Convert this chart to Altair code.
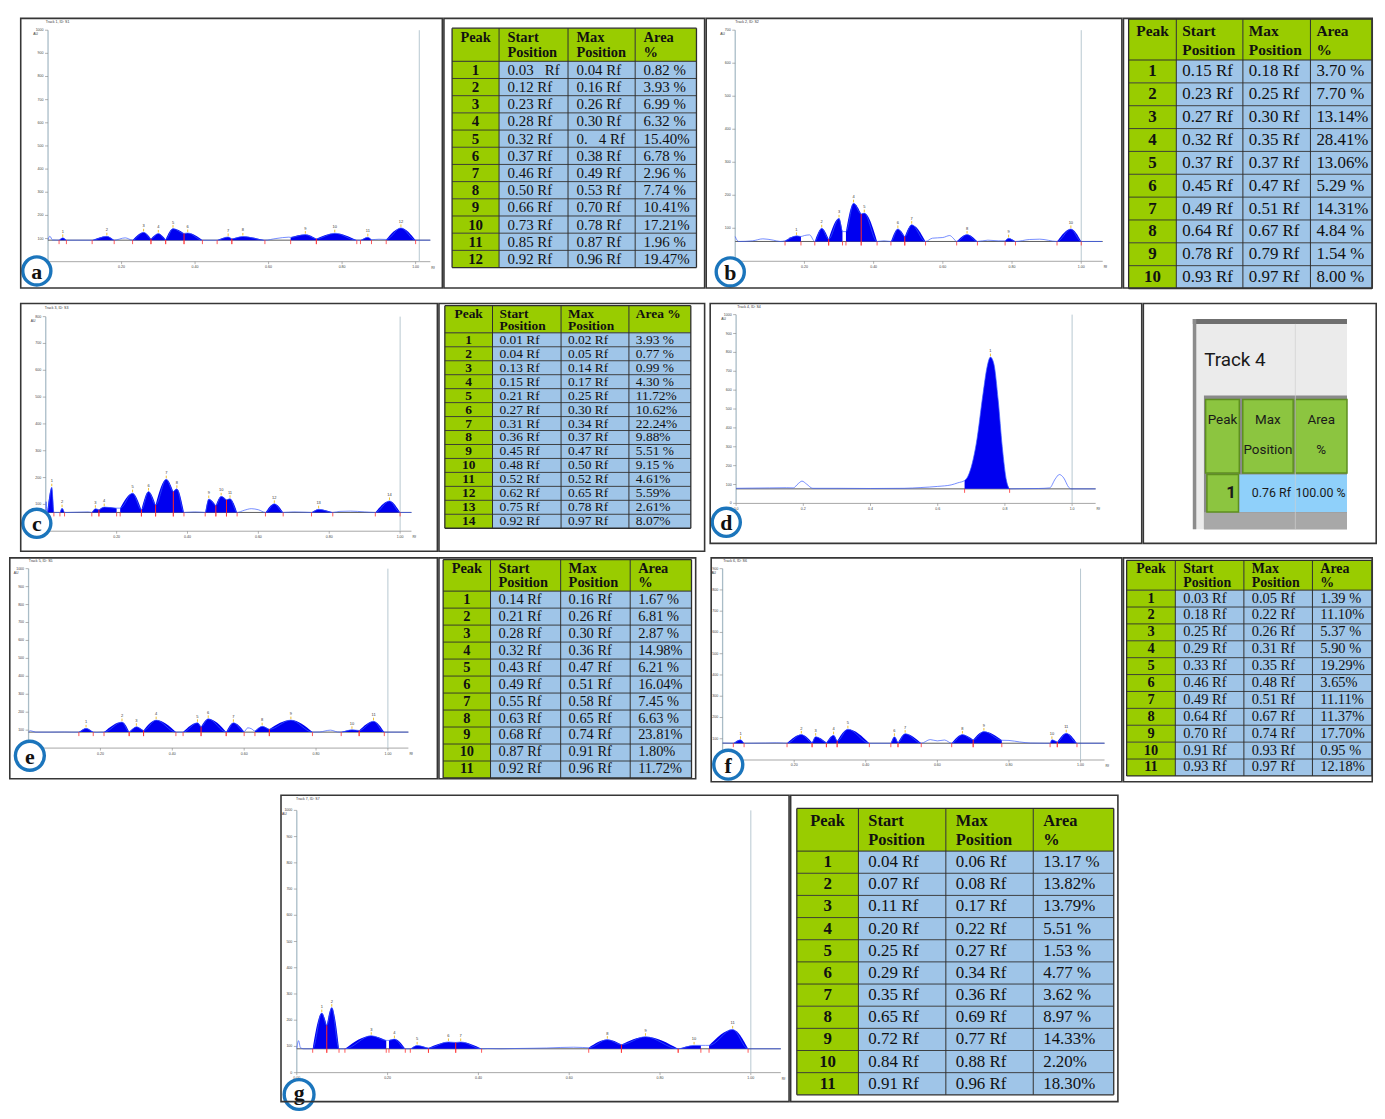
import altair as alt
import pandas as pd

# ====================== DENSITOGRAM DATA ======================
x_ticks = [0.0, 0.2, 0.4, 0.6, 0.8, 1.0]
x_labels = ["", "0.20", "0.40", "0.60", "0.80", "1.00"]
g_x_labels = ["0.00", "0.20", "0.40", "0.60", "0.80", "1.00"]
d_x_labels = ["0.0", "0.2", "0.4", "0.6", "0.8", "1.0"]

# panel a
a_title = "Track 1, ID: S1"
a_baseline = 93
a_yticks = [0, 100, 200, 300, 400, 500, 600, 700, 800, 900, 1000]
a_rf_start = [0.03, 0.12, 0.23, 0.28, 0.32, 0.37, 0.46, 0.50, 0.66, 0.73, 0.85, 0.92]
a_rf_max = [0.04, 0.16, 0.26, 0.30, 0.34, 0.38, 0.49, 0.53, 0.70, 0.78, 0.87, 0.96]
a_rf_end = [0.05, 0.18, 0.28, 0.32, 0.37, 0.42, 0.50, 0.59, 0.73, 0.84, 0.88, 1.00]
a_au_height = [103, 110, 127, 122, 143, 124, 107, 109, 117, 123, 106, 146]
a_au_slvl = [93, 93, 93, 99, 96, 122, 93, 99, 105, 99, 93, 96]
a_au_elvl = [93, 93, 99, 96, 122, 93, 99, 93, 99, 93, 95, 93]
a_noise_x = [0.0, 0.005, 0.012, 0.08, 0.21, 0.44, 0.62, 0.655, 0.90, 1.0, 1.04]
a_noise_y = [95, 110, 94, 93, 103, 93, 100, 106, 97, 93, 93]

# panel b
b_title = "Track 2, ID: S2"
b_baseline = 60
b_yticks = [0, 100, 200, 300, 400, 500, 600, 700]
b_rf_start = [0.144, 0.23, 0.27, 0.32, 0.364, 0.45, 0.49, 0.64, 0.78, 0.93]
b_rf_max = [0.177, 0.25, 0.30, 0.342, 0.373, 0.47, 0.51, 0.67, 0.79, 0.97]
b_rf_end = [0.19, 0.27, 0.31, 0.364, 0.41, 0.49, 0.55, 0.70, 0.81, 1.00]
b_au_height = [77, 100, 130, 176, 146, 98, 111, 81, 70, 98]
b_au_slvl = [62, 60, 67, 90, 143, 60, 75, 60, 62, 60]
b_au_elvl = [75, 67, 90, 143, 60, 75, 60, 60, 60, 60]
b_noise_x = [0.0, 0.003, 0.01, 0.05, 0.08, 0.11, 0.13, 0.20, 0.215, 0.43, 0.57, 0.60, 0.62, 0.63, 0.73, 0.76, 0.85, 0.88, 1.0, 1.06]
b_noise_y = [75, 68, 60, 62, 68, 64, 60, 78, 80, 62, 70, 72, 78, 70, 64, 62, 66, 67, 60, 60]

# panel c
c_title = "Track 3, ID: S3"
c_baseline = 70
c_yticks = [0, 100, 200, 300, 400, 500, 600, 700, 800]
c_rf_start = [0.004, 0.04, 0.13, 0.15, 0.21, 0.27, 0.31, 0.36, 0.45, 0.48, 0.51, 0.62, 0.75, 0.93]
c_rf_max = [0.017, 0.046, 0.14, 0.165, 0.245, 0.29, 0.34, 0.37, 0.46, 0.495, 0.52, 0.645, 0.77, 0.97]
c_rf_end = [0.023, 0.053, 0.15, 0.20, 0.27, 0.31, 0.36, 0.39, 0.48, 0.51, 0.54, 0.67, 0.81, 1.00]
c_au_height = [164, 86, 84, 90, 142, 148, 194, 158, 120, 130, 121, 102, 82, 113]
c_au_slvl = [70, 70, 70, 80, 86, 80, 98, 148, 70, 96, 117, 70, 70, 70]
c_au_elvl = [70, 70, 80, 86, 80, 98, 148, 70, 96, 117, 70, 70, 70, 70]
c_noise_x = [0.0, 0.001, 0.003, 0.03, 0.06, 0.09, 0.12, 0.42, 0.44, 0.56, 0.58, 0.60, 0.70, 0.73, 0.83, 0.86, 0.90, 1.0, 1.032]
c_noise_y = [70, 110, 72, 70, 70, 71, 72, 72, 71, 78, 84, 80, 72, 71, 74, 75, 72, 70, 70]

# panel d (one main peak)
d_title = "Track 4, ID: S4"
d_baseline = 77
d_yticks = [0, 100, 200, 300, 400, 500, 600, 700, 800, 900, 1000]
d_shape_x = [0.68, 0.69, 0.715, 0.735, 0.747, 0.757, 0.767, 0.78, 0.792, 0.805, 0.814]
d_shape_y = [121, 144, 319, 582, 723, 775, 740, 547, 302, 118, 77]
d_noise_x = [0.0, 0.05, 0.10, 0.15, 0.17, 0.185, 0.196, 0.21, 0.228, 0.30, 0.40, 0.50, 0.55, 0.60, 0.64, 0.66,
             0.85, 0.90, 0.933, 0.95, 0.962, 0.975, 0.99, 0.997, 1.07]
d_noise_y = [80, 81, 82, 83, 82, 105, 118, 102, 80, 80, 79, 80, 84, 90, 98, 109,
             78, 79, 82, 130, 153, 135, 85, 77, 77]

# panel e
e_title = "Track 5, ID: S5"
e_baseline = 89
e_yticks = [0, 100, 200, 300, 400, 500, 600, 700, 800, 900, 1000]
e_rf_start = [0.14, 0.21, 0.28, 0.32, 0.43, 0.48, 0.55, 0.63, 0.67, 0.87, 0.92]
e_rf_max = [0.16, 0.26, 0.30, 0.355, 0.47, 0.50, 0.57, 0.65, 0.73, 0.90, 0.96]
e_rf_end = [0.18, 0.28, 0.32, 0.41, 0.48, 0.55, 0.60, 0.67, 0.79, 0.92, 0.99]
e_au_height = [110, 145, 119, 156, 141, 163, 141, 122, 156, 102, 150]
e_au_slvl = [89, 89, 90, 98, 89, 119, 90, 95, 105, 89, 98]
e_au_elvl = [89, 90, 98, 89, 119, 90, 92, 105, 89, 98, 89]
e_noise_x = [0.0, 0.005, 0.02, 0.06, 0.10, 0.12, 0.19, 0.20, 0.42, 0.61, 0.62, 0.81, 0.84, 0.86, 1.0, 1.057]
e_noise_y = [90, 97, 89, 89, 90, 89, 88, 89, 90, 113, 108, 90, 100, 90, 89, 89]

# panel f
f_title = "Track 6, ID: S6"
f_baseline = 79
f_yticks = [0, 100, 200, 300, 400, 500, 600, 700, 800, 900]
f_rf_start = [0.03, 0.18, 0.25, 0.29, 0.32, 0.47, 0.49, 0.64, 0.70, 0.915, 0.935]
f_rf_max = [0.05, 0.22, 0.26, 0.31, 0.35, 0.48, 0.51, 0.67, 0.73, 0.92, 0.96]
f_rf_end = [0.06, 0.25, 0.29, 0.32, 0.41, 0.49, 0.555, 0.70, 0.78, 0.935, 0.99]
f_au_height = [95, 120, 110, 117, 145, 109, 124, 120, 134, 95, 126]
f_au_slvl = [79, 79, 82, 82, 89, 79, 82, 79, 95, 79, 85]
f_au_elvl = [79, 82, 82, 89, 79, 82, 79, 95, 93, 85, 79]
f_noise_x = [0.0, 0.08, 0.12, 0.15, 0.17, 0.44, 0.58, 0.60, 0.62, 0.80, 0.83, 0.86, 0.90, 1.0, 1.067]
f_noise_y = [80, 79, 80, 81, 80, 79, 96, 90, 94, 92, 85, 80, 79, 79, 79]

# panel g
g_title = "Track 7, ID: S7"
g_baseline = 91
g_yticks = [0, 100, 200, 300, 400, 500, 600, 700, 800, 900, 1000]
g_rf_start = [0.035, 0.066, 0.106, 0.203, 0.25, 0.29, 0.35, 0.643, 0.715, 0.84, 0.908]
g_rf_max = [0.055, 0.077, 0.164, 0.215, 0.265, 0.334, 0.361, 0.684, 0.768, 0.875, 0.96]
g_rf_end = [0.066, 0.093, 0.197, 0.239, 0.29, 0.35, 0.407, 0.715, 0.84, 0.89, 0.994]
g_au_height = [227, 248, 141, 128, 104, 117, 117, 126, 137, 104, 165]
g_au_slvl = [91, 180, 91, 123, 91, 94, 115, 95, 107, 91, 104]
g_au_elvl = [180, 91, 123, 91, 94, 115, 91, 107, 91, 104, 91]
g_noise_x = [0.0, 0.004, 0.008, 0.015, 0.025, 0.10, 0.20, 0.245, 0.42, 0.45, 0.48, 0.52, 0.55, 0.58, 0.61, 0.63, 0.90, 1.0, 1.066]
g_noise_y = [92, 122, 95, 91, 91, 91, 123, 91, 92, 91, 92, 93, 94, 96, 97, 96, 104, 91, 91]

# ====================== TABLE TEXT ======================
head_4 = [["Peak"], ["Start", "Position"], ["Max", "Position"], ["Area", "%"]]
head_c = [["Peak"], ["Start", "Position"], ["Max", "Position"], ["Area %"]]

a_tbl_peak = ["1", "2", "3", "4", "5", "6", "7", "8", "9", "10", "11", "12"]
a_tbl_start = ["0.03\u00a0\u00a0\u00a0Rf", "0.12 Rf", "0.23 Rf", "0.28 Rf", "0.32 Rf", "0.37 Rf", "0.46 Rf", "0.50 Rf",
               "0.66 Rf", "0.73 Rf", "0.85 Rf", "0.92 Rf"]
a_tbl_max = ["0.04 Rf", "0.16 Rf", "0.26 Rf", "0.30 Rf", "0.\u00a0\u00a0\u00a04 Rf", "0.38 Rf", "0.49 Rf", "0.53 Rf",
             "0.70 Rf", "0.78 Rf", "0.87 Rf", "0.96 Rf"]
a_tbl_area = ["0.82 %", "3.93 %", "6.99 %", "6.32 %", "15.40%", "6.78 %", "2.96 %", "7.74 %", "10.41%", "17.21%",
              "1.96 %", "19.47%"]

b_tbl_peak = ["1", "2", "3", "4", "5", "6", "7", "8", "9", "10"]
b_tbl_start = ["0.15 Rf", "0.23 Rf", "0.27 Rf", "0.32 Rf", "0.37 Rf", "0.45 Rf", "0.49 Rf", "0.64 Rf", "0.78 Rf", "0.93 Rf"]
b_tbl_max = ["0.18 Rf", "0.25 Rf", "0.30 Rf", "0.35 Rf", "0.37 Rf", "0.47 Rf", "0.51 Rf", "0.67 Rf", "0.79 Rf", "0.97 Rf"]
b_tbl_area = ["3.70 %", "7.70 %", "13.14%", "28.41%", "13.06%", "5.29 %", "14.31%", "4.84 %", "1.54 %", "8.00 %"]

c_tbl_peak = ["1", "2", "3", "4", "5", "6", "7", "8", "9", "10", "11", "12", "13", "14"]
c_tbl_start = ["0.01 Rf", "0.04 Rf", "0.13 Rf", "0.15 Rf", "0.21 Rf", "0.27 Rf", "0.31 Rf", "0.36 Rf", "0.45 Rf",
               "0.48 Rf", "0.52 Rf", "0.62 Rf", "0.75 Rf", "0.92 Rf"]
c_tbl_max = ["0.02 Rf", "0.05 Rf", "0.14 Rf", "0.17 Rf", "0.25 Rf", "0.30 Rf", "0.34 Rf", "0.37 Rf", "0.47 Rf",
             "0.50 Rf", "0.52 Rf", "0.65 Rf", "0.78 Rf", "0.97 Rf"]
c_tbl_area = ["3.93 %", "0.77 %", "0.99 %", "4.30 %", "11.72%", "10.62%", "22.24%", "9.88%", "5.51 %", "9.15 %",
              "4.61%", "5.59%", "2.61%", "8.07%"]

d_tbl_title = "Track 4"
d_tbl_head = [["Peak"], ["Max", "Position"], ["Area", "%"]]
d_tbl_row = ["1", "0.76 Rf", "100.00 %"]

e_tbl_peak = ["1", "2", "3", "4", "5", "6", "7", "8", "9", "10", "11"]
e_tbl_start = ["0.14 Rf", "0.21 Rf", "0.28 Rf", "0.32 Rf", "0.43 Rf", "0.49 Rf", "0.55 Rf", "0.63 Rf", "0.68 Rf",
               "0.87 Rf", "0.92 Rf"]
e_tbl_max = ["0.16 Rf", "0.26 Rf", "0.30 Rf", "0.36 Rf", "0.47 Rf", "0.51 Rf", "0.58 Rf", "0.65 Rf", "0.74 Rf",
             "0.91 Rf", "0.96 Rf"]
e_tbl_area = ["1.67 %", "6.81 %", "2.87 %", "14.98%", "6.21 %", "16.04%", "7.45 %", "6.63 %", "23.81%", "1.80%",
              "11.72%"]

f_tbl_peak = ["1", "2", "3", "4", "5", "6", "7", "8", "9", "10", "11"]
f_tbl_start = ["0.03 Rf", "0.18 Rf", "0.25 Rf", "0.29 Rf", "0.33 Rf", "0.46 Rf", "0.49 Rf", "0.64 Rf", "0.70 Rf",
               "0.91 Rf", "0.93 Rf"]
f_tbl_max = ["0.05 Rf", "0.22 Rf", "0.26 Rf", "0.31 Rf", "0.35 Rf", "0.48 Rf", "0.51 Rf", "0.67 Rf", "0.74 Rf",
             "0.93 Rf", "0.97 Rf"]
f_tbl_area = ["1.39 %", "11.10%", "5.37 %", "5.90 %", "19.29%", "3.65%", "11.11%", "11.37%", "17.70%", "0.95 %",
              "12.18%"]

g_tbl_peak = ["1", "2", "3", "4", "5", "6", "7", "8", "9", "10", "11"]
g_tbl_start = ["0.04 Rf", "0.07 Rf", "0.11 Rf", "0.20 Rf", "0.25 Rf", "0.29 Rf", "0.35 Rf", "0.65 Rf", "0.72 Rf",
               "0.84 Rf", "0.91 Rf"]
g_tbl_max = ["0.06 Rf", "0.08 Rf", "0.17 Rf", "0.22 Rf", "0.27 Rf", "0.34 Rf", "0.36 Rf", "0.69 Rf", "0.77 Rf",
             "0.88 Rf", "0.96 Rf"]
g_tbl_area = ["13.17 %", "13.82%", "13.79%", "5.51 %", "1.53 %", "4.77 %", "3.62 %", "8.97 %", "14.33%", "2.20%",
              "18.30%"]

# ====================== STYLE / LAYOUT ======================
SANS = "Liberation Sans, Arial, sans-serif"
SERIF = "Liberation Serif, Times New Roman, serif"
NARROW = "Roboto, Liberation Sans, sans-serif"
FILL = "#0000f0"
LINE = "#3b5cff"
GREEN = "#99cc00"
BLUE = "#9fc5e8"
FRAME = "#363636"

PANELS = {
    "a": dict(start=a_rf_start, top=a_rf_max, end=a_rf_end, h=a_au_height, sl=a_au_slvl, el=a_au_elvl,
              nx=a_noise_x, ny=a_noise_y, base=a_baseline, yt=a_yticks, xl=x_labels, title=a_title),
    "b": dict(start=b_rf_start, top=b_rf_max, end=b_rf_end, h=b_au_height, sl=b_au_slvl, el=b_au_elvl,
              nx=b_noise_x, ny=b_noise_y, base=b_baseline, yt=b_yticks, xl=x_labels, title=b_title),
    "c": dict(start=c_rf_start, top=c_rf_max, end=c_rf_end, h=c_au_height, sl=c_au_slvl, el=c_au_elvl,
              nx=c_noise_x, ny=c_noise_y, base=c_baseline, yt=c_yticks, xl=x_labels, title=c_title),
    "d": dict(shape_x=d_shape_x, shape_y=d_shape_y, nx=d_noise_x, ny=d_noise_y, base=d_baseline, yt=d_yticks,
              xl=d_x_labels, title=d_title),
    "e": dict(start=e_rf_start, top=e_rf_max, end=e_rf_end, h=e_au_height, sl=e_au_slvl, el=e_au_elvl,
              nx=e_noise_x, ny=e_noise_y, base=e_baseline, yt=e_yticks, xl=x_labels, title=e_title),
    "f": dict(start=f_rf_start, top=f_rf_max, end=f_rf_end, h=f_au_height, sl=f_au_slvl, el=f_au_elvl,
              nx=f_noise_x, ny=f_noise_y, base=f_baseline, yt=f_yticks, xl=x_labels, title=f_title),
    "g": dict(start=g_rf_start, top=g_rf_max, end=g_rf_end, h=g_au_height, sl=g_au_slvl, el=g_au_elvl,
              nx=g_noise_x, ny=g_noise_y, base=g_baseline, yt=g_yticks, xl=g_x_labels, title=g_title),
}

CHART_LAYOUT = {
    "a": dict(W=426, H=273, x0=28.3, ppr=370, y0=245.7, ppu=0.233, xend=1.04, front=1.01, tx=26, ty=4, cx=17, cy=255, cs=800),
    "b": dict(W=420, H=273, x0=30, ppr=348.3, y0=245.3, ppu=0.3323, xend=1.062, front=1.0, tx=30, ty=4.5, cx=25, cy=256, cs=800),
    "c": dict(W=421, H=251, x0=26, ppr=356.7, y0=230, ppu=0.27, xend=1.032, front=1.0, tx=25, ty=5, cx=17, cy=222, cs=800),
    "d": dict(W=436, H=243, x0=26.9, ppr=338.2, y0=202, ppu=0.19, xend=1.07, front=1.0, tx=28, ty=4, cx=17, cy=221, cs=800),
    "e": dict(W=432, H=224, x0=19.7, ppr=361.7, y0=192.3, ppu=0.1806, xend=1.057, front=1.0, tx=20, ty=4, cx=21, cy=200, cs=850),
    "f": dict(W=415, H=227, x0=12.3, ppr=360.3, y0=204.3, ppu=0.214, xend=1.067, front=1.0, tx=13, ty=4, cx=18, cy=209, cs=850),
    "g": dict(W=513, H=310, x0=16.7, ppr=457, y0=280, ppu=0.264, xend=1.066, front=1.0, tx=16, ty=5, cx=19, cy=302, cs=900),
}

TABLE_LAYOUT = {
    "a": dict(W=264, H=273, cols=[9, 56.3, 125.7, 193.3, 255], top=10.7, hb=44, rh=17.3, fs=15, hfs=14.5, pad=8.5),
    "b": dict(W=252, H=273, cols=[6, 54, 121, 189, 251], top=1.5, hb=42.7, rh=23, fs=17, hfs=15.5, pad=6),
    "c": dict(W=269, H=251, cols=[6.7, 54.7, 123.7, 192, 254.3], top=3, hb=30.3, rh=14.05, fs=13.5, hfs=13.5, pad=7),
    "e": dict(W=260, H=224, cols=[5, 52.7, 123.3, 193.3, 255], top=2.7, hb=34.3, rh=17.1, fs=14.5, hfs=14.5, pad=8),
    "f": dict(W=252, H=227, cols=[4, 53, 122, 191, 251], top=3.3, hb=33.3, rh=17.0, fs=14.5, hfs=14, pad=8),
    "g": dict(W=331, H=310, cols=[7, 69, 157, 245, 326], top=14, hb=57, rh=22.3, fs=17, hfs=16.5, pad=10),
}

ONE = pd.DataFrame({"k": [0]})


def frame(W, H):
    return alt.Chart(ONE).mark_rect(fillOpacity=0, stroke=FRAME, strokeWidth=1.6).encode(
        x=alt.value(0.8), x2=alt.value(W - 0.8), y=alt.value(0.8), y2=alt.value(H - 0.8))


def densitogram(key, letter):
    P, L = PANELS[key], CHART_LAYOUT[key]
    W, H, x0, ppr, y0, ppu = L["W"], L["H"], L["x0"], L["ppr"], L["y0"], L["ppu"]
    xs = alt.Scale(domain=[-x0 / ppr, (W - x0) / ppr], nice=False, zero=False)
    ys = alt.Scale(domain=[-(H - y0) / ppu, y0 / ppu], nice=False, zero=False)
    ex, ey = 1.0 / ppr, 1.0 / ppu
    base, xend, front = P["base"], L["xend"], L["front"]
    ymax = P["yt"][-1]

    def X():
        return alt.X("x:Q", scale=xs, axis=None)

    def Y():
        return alt.Y("y:Q", scale=ys, axis=None)

    peaks = []
    if "shape_x" in P:
        peaks.append(list(zip(P["shape_x"], P["shape_y"])))
    else:
        for s, m, e, h, sl, el in zip(P["start"], P["top"], P["end"], P["h"], P["sl"], P["el"]):
            peaks.append([(s, sl), (m, h), (e, el)])

    area_rows = []
    for i, pts in enumerate(peaks):
        for xx, yy in pts:
            area_rows.append(dict(peak=i, x=xx, y=yy, b=base))

    pts_all = [p for pk in peaks for p in pk]
    for xx, yy in zip(P["nx"], P["ny"]):
        inside = any(pk[0][0] < xx < pk[-1][0] for pk in peaks)
        if not inside:
            pts_all.append((xx, yy))
    pts_all.sort(key=lambda t: t[0])
    line_rows, seen = [], set()
    for xx, yy in pts_all:
        k = round(xx, 4)
        if k in seen:
            continue
        seen.add(k)
        line_rows.append(dict(i=len(line_rows), x=xx, y=yy))

    ax = [dict(x=0, x2=xend, y=0, y2=0, c="#9c9c9c", w=0.9),
          dict(x=0, x2=0, y=0, y2=ymax, c="#a9bcc7", w=1.3),
          dict(x=front, x2=front, y=0, y2=ymax, c="#b7c8d1", w=1.0)]
    for v in P["yt"]:
        ax.append(dict(x=-3 * ex, x2=0, y=v, y2=v, c="#808080", w=0.6))
    for v in x_ticks:
        ax.append(dict(x=v, x2=v, y=0, y2=-2.5 * ey, c="#808080", w=0.6))
    ax.append(dict(x=0, x2=xend, y=base, y2=base, c="#4a4a4a", w=0.9))

    marks = []
    for i, pk in enumerate(peaks):
        for xx in (pk[0][0], pk[-1][0]):
            marks.append(dict(x=xx, x2=xx, y=base, y2=base - 4 * ey, c="#ff3030", w=0.8))
        mx, my = max(pk, key=lambda t: t[1])
        marks.append(dict(x=mx, x2=mx, y=my + 1 * ey, y2=my + 3.5 * ey, c="#e8b000", w=0.8))
        if i + 1 < len(peaks):
            jx, jy = pk[-1]
            if abs(peaks[i + 1][0][0] - jx) < 1e-6 and jy > base + 3:
                marks.append(dict(x=jx, x2=jx, y=base, y2=jy, c="#ff1a1a", w=1.0))

    def rules(rows):
        return alt.Chart(pd.DataFrame(rows)).mark_rule().encode(
            x=X(), x2="x2:Q", y=Y(), y2="y2:Q",
            color=alt.Color("c:N", scale=None), strokeWidth=alt.StrokeWidth("w:Q", scale=None))

    def texts(rows, **kw):
        return alt.Chart(pd.DataFrame(rows)).mark_text(baseline="middle", font=SANS, **kw).encode(
            x=X(), y=Y(), text="t:N")

    ylab = [dict(x=-4.5 * ex, y=v, t=str(v)) for v in P["yt"]]
    xlab = [dict(x=v, y=-5.5 * ey, t=t) for v, t in zip(x_ticks, P["xl"]) if t]
    plab = []
    for i, pk in enumerate(peaks):
        mx, my = max(pk, key=lambda t: t[1])
        plab.append(dict(x=mx, y=my + 6 * ey, t=str(i + 1)))

    area = alt.Chart(pd.DataFrame(area_rows)).mark_area(color=FILL, interpolate="monotone", opacity=1).encode(
        x=X(), y=Y(), y2="b:Q", detail="peak:N")
    line = alt.Chart(pd.DataFrame(line_rows)).mark_line(color=LINE, strokeWidth=0.7, interpolate="monotone").encode(
        x=X(), y=Y(), order="i:Q")

    title = alt.Chart(ONE).mark_text(text=P["title"], align="left", baseline="middle", font=SANS, fontSize=3.6,
                                     color="#333").encode(x=alt.value(L["tx"]), y=alt.value(L["ty"]))
    au = alt.Chart(ONE).mark_text(text="AU", align="left", baseline="middle", font=SANS, fontSize=3.4,
                                  color="#333").encode(x=alt.value(max(x0 - 15, 1)), y=alt.value(y0 - ymax * ppu + 4))
    rf = alt.Chart(ONE).mark_text(text="Rf", align="left", baseline="middle", font=SANS, fontSize=3.4,
                                  color="#333").encode(x=alt.value(x0 + xend * ppr + 1), y=alt.value(y0 + 6))
    circ = alt.Chart(ONE).mark_point(shape="circle", filled=True, fill="white", stroke="#1b75bc", strokeWidth=3.4,
                                     size=L["cs"], opacity=1).encode(x=alt.value(L["cx"]), y=alt.value(L["cy"]))
    let = alt.Chart(ONE).mark_text(text=letter, align="center", baseline="middle", font=SERIF, fontWeight="bold",
                                   fontSize=22, color="#111", dy=-2 if letter == "g" else 0).encode(
        x=alt.value(L["cx"]), y=alt.value(L["cy"] + 1))

    layers = [rules(ax), area, line, rules(marks),
              texts(ylab, align="right", fontSize=3.6, color="#444"),
              texts(xlab, align="center", fontSize=3.6, color="#444"),
              texts(plab, align="center", fontSize=4, color="#333"),
              title, au, rf, circ, let, frame(W, H)]
    return alt.layer(*layers).properties(width=W, height=H)


def table_cell(key, head, cols_text):
    L = TABLE_LAYOUT[key]
    W, H, cx, top, hb, rh = L["W"], L["H"], L["cols"], L["top"], L["hb"], L["rh"]
    n = len(cols_text[0])
    bottom = hb + n * rh
    xs = alt.Scale(domain=[0, W], nice=False, zero=False)
    ys = alt.Scale(domain=[0, H], nice=False, zero=False, reverse=True)

    rects = []
    for c in range(4):
        rects.append(dict(x=cx[c], x2=cx[c + 1], y=top, y2=hb, f=GREEN))
    for r in range(n):
        for c in range(4):
            rects.append(dict(x=cx[c], x2=cx[c + 1], y=hb + r * rh, y2=hb + (r + 1) * rh, f=GREEN if c == 0 else BLUE))
    grid = [dict(x=cx[0], x2=cx[-1], y=top, y2=top, w=1.3), dict(x=cx[0], x2=cx[-1], y=hb, y2=hb, w=1.0)]
    for r in range(1, n + 1):
        grid.append(dict(x=cx[0], x2=cx[-1], y=hb + r * rh, y2=hb + r * rh, w=1.3 if r == n else 0.9))
    for i, c in enumerate(cx):
        grid.append(dict(x=c, x2=c, y=top, y2=bottom, w=1.3 if i in (0, 4) else 1.0))

    hh = hb - top
    hc, hl, dc, dl = [], [], [], []
    for ci, lines in enumerate(head):
        for li, t in enumerate(lines):
            y = top + (0.29 if li == 0 else 0.75) * hh
            if ci == 0:
                hc.append(dict(x=(cx[0] + cx[1]) / 2, y=y, t=t))
            else:
                hl.append(dict(x=cx[ci] + L["pad"], y=y, t=t))
    for r in range(n):
        y = hb + (r + 0.5) * rh
        dc.append(dict(x=(cx[0] + cx[1]) / 2, y=y, t=cols_text[0][r]))
        for c in range(1, 4):
            dl.append(dict(x=cx[c] + L["pad"], y=y, t=cols_text[c][r]))

    def X():
        return alt.X("x:Q", scale=xs, axis=None)

    def Y():
        return alt.Y("y:Q", scale=ys, axis=None)

    rect = alt.Chart(pd.DataFrame(rects)).mark_rect().encode(
        x=X(), x2="x2:Q", y=Y(), y2="y2:Q", color=alt.Color("f:N", scale=None))
    gl = alt.Chart(pd.DataFrame(grid)).mark_rule(color="#2e2e2e").encode(
        x=X(), x2="x2:Q", y=Y(), y2="y2:Q", strokeWidth=alt.StrokeWidth("w:Q", scale=None))

    def texts(rows, align, weight, fs):
        return alt.Chart(pd.DataFrame(rows)).mark_text(align=align, baseline="middle", font=SERIF, fontWeight=weight,
                                                       fontSize=fs, color="#111").encode(x=X(), y=Y(), text="t:N")

    layers = [rect, gl,
              texts(hc, "center", "bold", L["hfs"]), texts(hl, "left", "bold", L["hfs"]),
              texts(dc, "center", "bold", L["fs"]), texts(dl, "left", "normal", L["fs"]),
              frame(W, H)]
    return alt.layer(*layers).properties(width=W, height=H)


def table_d():
    W, H = 236, 243
    xs = alt.Scale(domain=[0, W], nice=False, zero=False)
    ys = alt.Scale(domain=[0, H], nice=False, zero=False, reverse=True)
    rects = [
        dict(x=50.6, x2=205.8, y=16.3, y2=228, f="#ebebeb", s="#ebebeb", w=0),
        dict(x=50.6, x2=205.8, y=16.3, y2=21.3, f="#6f6f6f", s="#6f6f6f", w=0),
        dict(x=50.6, x2=54.1, y=16.3, y2=228, f="#8c8c8c", s="#8c8c8c", w=0),
        dict(x=61.8, x2=205.8, y=93.3, y2=228, f="#8a8a8a", s="#8a8a8a", w=0),
        dict(x=61.8, x2=205.8, y=211, y2=228, f="#a8a8a8", s="#a8a8a8", w=0),
        dict(x=63.5, x2=97.4, y=97.3, y2=171.3, f="#8cc540", s="#5e8f1f", w=1.5),
        dict(x=100.9, x2=151.6, y=97.3, y2=171.3, f="#8cc540", s="#5e8f1f", w=1.5),
        dict(x=153.8, x2=205.8, y=97.3, y2=171.3, f="#8cc540", s="#5e8f1f", w=1.5),
        dict(x=64.8, x2=96.6, y=173, y2=210.7, f="#8cc540", s="#5e8f1f", w=1.5),
        dict(x=97.5, x2=205.8, y=173, y2=210.7, f="#8fd0fa", s="#8fd0fa", w=0),
    ]

    def X():
        return alt.X("x:Q", scale=xs, axis=None)

    def Y():
        return alt.Y("y:Q", scale=ys, axis=None)

    rect = alt.Chart(pd.DataFrame(rects)).mark_rect().encode(
        x=X(), x2="x2:Q", y=Y(), y2="y2:Q", color=alt.Color("f:N", scale=None),
        stroke=alt.Stroke("s:N", scale=None), strokeWidth=alt.StrokeWidth("w:Q", scale=None))
    vline = alt.Chart(pd.DataFrame([dict(x=153.8, x2=153.8, y=21.3, y2=228)])).mark_rule(
        color="#d0d0d0", strokeWidth=1, opacity=0.7).encode(x=X(), x2="x2:Q", y=Y(), y2="y2:Q")

    head_x = [80.5, 126.2, 179.8]
    hrows = []
    for xc, lines in zip(head_x, d_tbl_head):
        for li, t in enumerate(lines):
            hrows.append(dict(x=xc, y=118.5 if li == 0 else 148, t=t))

    def texts(rows, align, weight, fs):
        return alt.Chart(pd.DataFrame(rows)).mark_text(align=align, baseline="middle", font=NARROW, fontWeight=weight,
                                                       fontSize=fs, color="#1a1a1a").encode(x=X(), y=Y(), text="t:N")

    layers = [rect, vline,
              texts([dict(x=62, y=58, t=d_tbl_title)], "left", "normal", 19),
              texts(hrows, "center", "normal", 13.5),
              texts([dict(x=94, y=192, t=d_tbl_row[0])], "right", "bold", 17),
              texts([dict(x=149.5, y=192, t=d_tbl_row[1]), dict(x=204.5, y=192, t=d_tbl_row[2])], "right", "normal", 12.5),
              frame(W, H)]
    return alt.layer(*layers).properties(width=W, height=H)


def spacer(w):
    return alt.Chart(ONE).mark_rule(opacity=0).encode(
        x=alt.value(1), y=alt.value(1), y2=alt.value(2)).properties(width=w, height=10)


tab_a = table_cell("a", head_4, [a_tbl_peak, a_tbl_start, a_tbl_max, a_tbl_area])
tab_b = table_cell("b", head_4, [b_tbl_peak, b_tbl_start, b_tbl_max, b_tbl_area])
tab_c = table_cell("c", head_c, [c_tbl_peak, c_tbl_start, c_tbl_max, c_tbl_area])
tab_e = table_cell("e", head_4, [e_tbl_peak, e_tbl_start, e_tbl_max, e_tbl_area])
tab_f = table_cell("f", head_4, [f_tbl_peak, f_tbl_start, f_tbl_max, f_tbl_area])
tab_g = table_cell("g", head_4, [g_tbl_peak, g_tbl_start, g_tbl_max, g_tbl_area])

row1 = alt.hconcat(spacer(7), densitogram("a", "a"), tab_a, densitogram("b", "b"), tab_b, spacing=0)
row2 = alt.hconcat(spacer(7), densitogram("c", "c"), tab_c, densitogram("d", "d"), table_d(), spacing=0)
row3 = alt.hconcat(densitogram("e", "e"), tab_e, spacer(10), densitogram("f", "f"), tab_f, spacing=0)
row4 = alt.hconcat(spacer(270), densitogram("g", "g"), tab_g, spacing=0)

chart = alt.vconcat(
    alt.vconcat(row1, row2, spacing=10),
    alt.vconcat(row3, row4, spacing=8),
    spacing=5,
).properties(
    padding={"left": 0, "top": 6, "right": 0, "bottom": 0}
).configure_view(strokeWidth=0)

chart.save("out.html", embed_options={"renderer": "svg", "actions": False})
